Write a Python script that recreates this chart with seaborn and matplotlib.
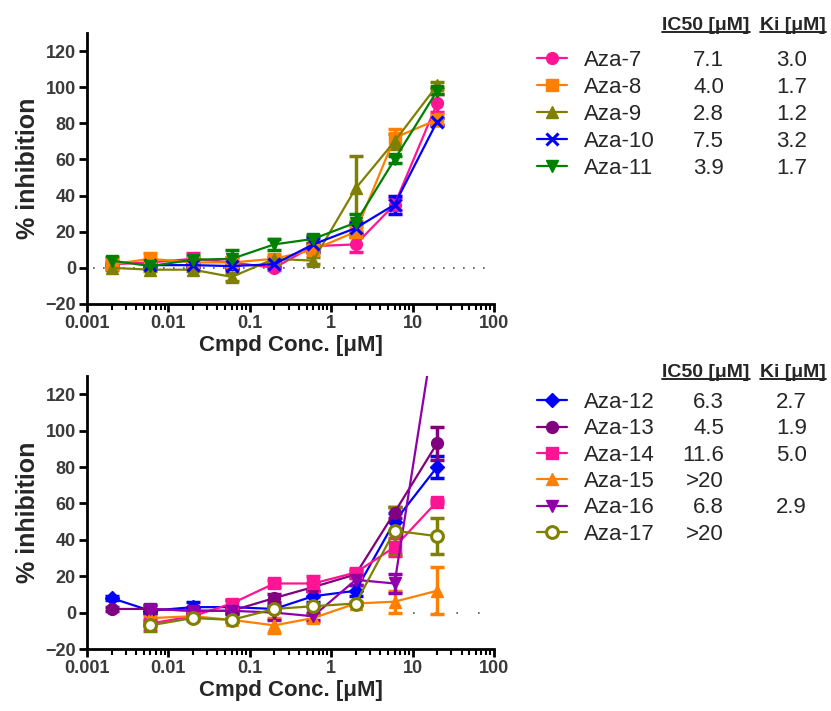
import numpy as np
import matplotlib
matplotlib.use("Agg")
import matplotlib.pyplot as plt
from matplotlib.lines import Line2D
from matplotlib.ticker import FixedLocator, FixedFormatter, LogLocator, NullFormatter
import seaborn as sns

# Data
conc = [0.002, 0.006, 0.02, 0.06, 0.2, 0.6, 2, 6, 20]
conc_late = conc[1:]

# top panel
aza7 = [2, 3, 5, 3, 0, 12, 13, 35, 91]
aza7_err = [1, 2, 3, 3, 1, 2, 4, 3, 5]
aza8 = [2, 5, 3, 3, 5, 10, 20, 72, 82]
aza8_err = [2, 3, 2, 2, 2, 2, 3, 5, 3]
aza9 = [0, -1, -1, -5, 5, 4, 44, 70, 101]
aza9_err = [1, 1, 1, 2, 1, 2, 18, 4, 2]
aza10 = [1.5, 1.5, 1, 2, 13, 22, 35, 81]
aza10_err = [1, 1, 1.5, 1.5, 4, 3, 5, 2]
aza11 = [4, 1, 4.5, 5, 13, 16, 25, 60, 98]
aza11_err = [2, 1, 2, 5, 3, 2, 5, 2, 2]

# bottom panel
aza12 = [8, 1, 3, 3, 2, 9, 12, 50, 80]
aza12_err = [1, 1, 3, 4, 1, 3, 3, 5, 6]
aza13 = [2, 2, 1, 1, 8, 14, 21, 55, 93]
aza13_err = [1, 2, 1, 1, 2, 2, 2, 3, 9]
aza14 = [-6, -2, 5, 16, 16, 22, 36, 61]
aza14_err = [1, 1, 2, 2, 4, 2, 5, 1]
aza15 = [-3, -2, -4, -7, -3, 5, 6, 12]
aza15_err = [1, 1, 1, 4, 2, 1, 6, 13]
aza16 = [2, 1, 1, 0, -2, 18, 16, 165]
aza16_err = [2, 1, 1, 4, 2, 3, 5, 0]
aza17 = [-7, -3, -4, 2, 3.5, 5, 45, 42]
aza17_err = [3, 1, 1, 1, 5, 1, 13, 10]

top_names = ["Aza-7", "Aza-8", "Aza-9", "Aza-10", "Aza-11"]
top_ic50 = ["7.1", "4.0", "2.8", "7.5", "3.9"]
top_ki = ["3.0", "1.7", "1.2", "3.2", "1.7"]
bot_names = ["Aza-12", "Aza-13", "Aza-14", "Aza-15", "Aza-16", "Aza-17"]
bot_ic50 = ["6.3", "4.5", "11.6", ">20", "6.8", ">20"]
bot_ki = ["2.7", "1.9", "5.0", "", "2.9", ""]

PINK = "#ff1493"
ORANGE = "#ff8000"
OLIVE = "#808000"
BLUE = "#0000ff"
GREEN = "#008000"
PURPLE = "#800080"
VIOLET = "#9000a8"

top_series = [
    (conc, aza7, aza7_err, PINK, "o", True),
    (conc, aza8, aza8_err, ORANGE, "s", True),
    (conc, aza9, aza9_err, OLIVE, "^", True),
    (conc_late, aza10, aza10_err, BLUE, "x", True),
    (conc, aza11, aza11_err, GREEN, "v", True),
]
bot_series = [
    (conc, aza12, aza12_err, BLUE, "D", True),
    (conc, aza13, aza13_err, PURPLE, "o", True),
    (conc_late, aza14, aza14_err, PINK, "s", True),
    (conc_late, aza15, aza15_err, ORANGE, "^", True),
    (conc_late, aza16, aza16_err, VIOLET, "v", True),
    (conc_late, aza17, aza17_err, OLIVE, "o", False),
]

sns.set_style("ticks")
plt.rcParams["font.family"] = ["Liberation Sans", "DejaVu Sans"]

W, H = 831, 711
fig = plt.figure(figsize=(W / 100, H / 100), dpi=100)


def px_box(left, top, right, bottom):
    return [left / W, 1 - bottom / H, (right - left) / W, (bottom - top) / H]


def draw_panel(ax, series, names, zero_span, zero_dash):
    ax.set_xscale("log")
    ax.plot(zero_span, [0, 0], color="#555555", lw=1.2,
            linestyle=(0, zero_dash), zorder=1)
    for (x, y, e, col, mk, filled), name in zip(series, names):
        face = col if filled else "white"
        ms = 7 if mk == "D" else 8.5
        sns.lineplot(x=x, y=y, ax=ax, color=col, marker=mk, markersize=ms,
                     markerfacecolor=face, markeredgecolor=col,
                     markeredgewidth=2.2 if mk == "x" or not filled else 1,
                     linewidth=1.6, label=name, errorbar=None, sort=False,
                     zorder=3)
        ax.errorbar(x, y, yerr=e, fmt="none", ecolor=col, elinewidth=2.5,
                    capsize=5, capthick=2.5, zorder=2)
    ax.set_xlim(0.001, 100)
    ax.set_ylim(-20, 130)
    ax.yaxis.set_major_locator(FixedLocator(np.arange(-20, 121, 20)))
    ax.xaxis.set_major_locator(FixedLocator([0.001, 0.01, 0.1, 1, 10, 100]))
    ax.xaxis.set_major_formatter(FixedFormatter(["0.001", "0.01", "0.1", "1", "10", "100"]))
    ax.xaxis.set_minor_locator(LogLocator(base=10, subs=np.arange(2, 10)))
    ax.xaxis.set_minor_formatter(NullFormatter())
    sns.despine(ax=ax)
    for s in ["left", "bottom"]:
        ax.spines[s].set_linewidth(2)
        ax.spines[s].set_color("black")
    ax.tick_params(axis="both", which="major", direction="out", length=6, width=2,
                   labelsize=13, colors="black", labelcolor="#3a3a3a", pad=2)
    ax.tick_params(axis="x", which="minor", direction="out", length=4, width=1.5,
                   colors="black")
    for lab in ax.get_xticklabels() + ax.get_yticklabels():
        lab.set_fontweight("bold")
    ax.set_ylabel("% inhibition", fontsize=18, fontweight="bold", labelpad=4)
    ax.set_xlabel("Cmpd Conc. [μM]", fontsize=16, fontweight="bold", labelpad=2)
    ax.get_legend().remove()


ax1 = fig.add_axes(px_box(87, 33, 494, 304))
ax2 = fig.add_axes(px_box(87, 376, 494, 649))
draw_panel(ax1, top_series, top_names, [0.0012, 95], (1, 5))
draw_panel(ax2, bot_series, bot_names, [10, 80], (1, 12))


def side_table(ax, names, ic50, ki, anchor_top, header_y, spacing):
    handles = ax.get_lines()
    handles = [h for h in handles if h.get_label() in names]
    leg = fig.legend(handles=handles, labels=names, loc="upper left",
                     bbox_to_anchor=(537 / W, 1 - anchor_top / H),
                     frameon=False, fontsize=16, handlelength=1.35,
                     handletextpad=0.75, labelspacing=spacing, borderpad=0,
                     borderaxespad=0, numpoints=1)
    fig.canvas.draw()
    inv = fig.transFigure.inverted()
    for txt, a, b in zip(leg.get_texts(), ic50, ki):
        bb = txt.get_window_extent()
        yc = inv.transform((0, (bb.y0 + bb.y1) / 2))[1]
        fig.text(724 / W, yc, a, ha="right", va="center", fontsize=16)
        fig.text(807 / W, yc, b, ha="right", va="center", fontsize=16)
    for label, xc in [("IC50 [μM]", 706), ("Ki [μM]", 793)]:
        t = fig.text(xc / W, 1 - header_y / H, label, ha="center", va="center",
                     fontsize=14, fontweight="bold")
        fig.canvas.draw()
        bb = t.get_window_extent()
        (x0, y0) = inv.transform((bb.x0, bb.y0 + 2))
        (x1, _) = inv.transform((bb.x1, bb.y0 + 2))
        fig.add_artist(Line2D([x0, x1], [y0, y0], color="black", lw=1.2,
                              transform=fig.transFigure))


side_table(ax1, top_names, top_ic50, top_ki, 50, 25, 0.27)
side_table(ax2, bot_names, bot_ic50, bot_ki, 392, 372, 0.24)

fig.savefig("out.png", dpi=100)
